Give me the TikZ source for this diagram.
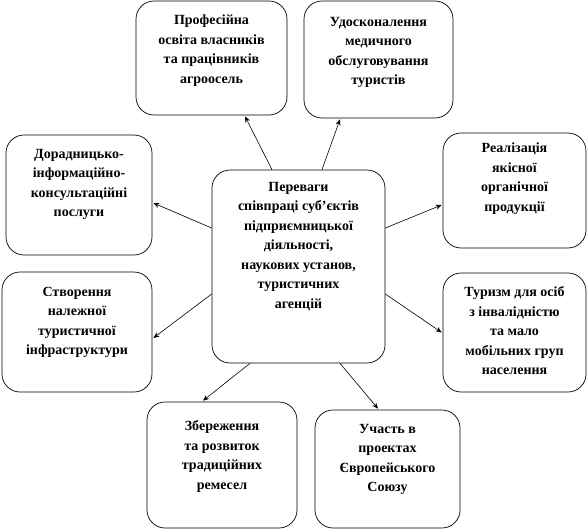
\documentclass[tikz,border=0pt]{standalone}
\usepackage{fontspec}
\setmainfont{Liberation Serif}
\usetikzlibrary{arrows.meta,calc}
\begin{document}
\begin{tikzpicture}[x=1pt,y=-1pt,
  box/.style={draw=black,line width=0.7pt,rounded corners=18pt,inner sep=0pt},
  txt/.style={anchor=north,align=center,inner sep=0pt,font=\fontsize{14}{19.5}\selectfont\bfseries},
  arr/.style={line width=0.6pt,-{Stealth[length=6pt,width=5pt]}}]
\useasboundingbox (0,0) rectangle (587,530);
% boxes
\node[box,minimum width=151pt,minimum height=114pt] (tl) at (211.5,58) {};
\node[box,minimum width=149pt,minimum height=117pt] (tr) at (378.5,59.5) {};
\node[box,minimum width=146pt,minimum height=120pt] (l1) at (79,195) {};
\node[box,minimum width=173pt,minimum height=193pt] (c) at (298.5,266.5) {};
\node[box,minimum width=143pt,minimum height=115pt] (r1) at (514.5,190.5) {};
\node[box,minimum width=150pt,minimum height=120pt] (l2) at (77,332) {};
\node[box,minimum width=143pt,minimum height=119pt] (r2) at (514.5,332.5) {};
\node[box,minimum width=150pt,minimum height=126pt] (bl) at (222,465) {};
\node[box,minimum width=145pt,minimum height=118pt] (br) at (387.5,469) {};
% texts
\node[txt] (ttl) at ([yshift=-14pt]tl.north) {Професійна\\освіта власників\\та працівників\\агроосель};
\node[txt] (ttr) at ([yshift=-16pt]tr.north) {Удосконалення\\медичного\\обслуговування\\туристів};
\node[txt] (tl1) at ([yshift=-14pt]l1.north) {Дорадницько-\\інформаційно-\\консультаційні\\послуги};
\node[txt] (tc) at ([yshift=-12pt]c.north) {Переваги\\співпраці суб’єктів\\підприємницької\\діяльності,\\наукових установ,\\туристичних\\агенцій};
\node[txt] (tr1) at ([yshift=-10pt]r1.north) {Реалізація\\якісної\\органічної\\продукції};
\node[txt] (tl2) at ([yshift=-15pt]l2.north) {Створення\\належної\\туристичної\\інфраструктури};
\node[txt] (tr2) at ([yshift=-14pt]r2.north) {Туризм для осіб\\з інвалідністю\\та мало\\мобільних груп\\населення};
\node[txt] (tbl) at ([yshift=-19pt]bl.north) {Збереження\\та розвиток\\традиційних\\ремесел};
\node[txt] (tbr) at ([yshift=-14pt]br.north) {Участь в\\проектах\\Європейського\\Союзу};
% arrows
\draw[arr] ([xshift=-26.5pt]c.north) -- ([xshift=33.5pt,yshift=-1pt]tl.south);
\draw[arr] ([xshift=23.5pt]c.north) -- ([xshift=-38.5pt,yshift=-1pt]tr.south);
\draw[arr] ([yshift=38.5pt]c.west) -- ([yshift=-8pt,xshift=1pt]l1.east);
\draw[arr] ([yshift=38.5pt]c.east) -- ([yshift=-14.5pt,xshift=-1pt]r1.west);
\draw[arr] ([yshift=-27.5pt]c.west) -- ([yshift=-6pt,xshift=1pt]l2.east);
\draw[arr] ([yshift=-27.5pt]c.east) -- ([xshift=-1pt]r2.west);
\draw[arr] ([xshift=-48.5pt]c.south) -- ([xshift=-19pt,yshift=1pt]bl.north);
\draw[arr] ([xshift=41.5pt]c.south) -- ([xshift=-9.5pt,yshift=1pt]br.north);
\end{tikzpicture}
\end{document}
